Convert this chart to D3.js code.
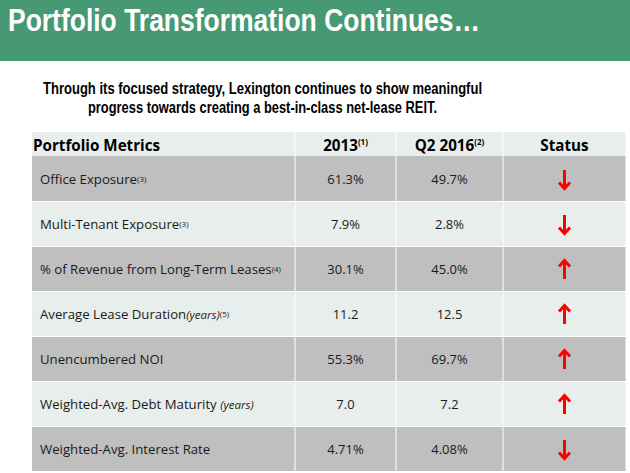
<!DOCTYPE html>
<html><head><meta charset="utf-8">
<script src="https://cdn.jsdelivr.net/npm/d3@7"></script>
<style>html,body{margin:0;padding:0;background:#fff;}svg{display:block;}</style>
</head><body>
<svg id="c" width="630" height="473"></svg>
<script>
const title = "Portfolio Transformation Continues…";
const subtitleLines = ["Through its focused strategy, Lexington continues to show meaningful",
                       "progress towards creating a best-in-class net-lease REIT."];
const headers = [
  {text:"Portfolio Metrics", sup:""},
  {text:"2013", sup:"(1)"},
  {text:"Q2 2016", sup:"(2)"},
  {text:"Status", sup:""}
];
const metrics = ["Office Exposure","Multi-Tenant Exposure","% of Revenue from Long-Term Leases",
  "Average Lease Duration","Unencumbered NOI","Weighted-Avg. Debt Maturity","Weighted-Avg. Interest Rate"];
const metricNotes = ["","","","(years)","","(years)",""];
const metricSups = ["(3)","(3)","(4)","(5)","","",""];
const values2013 = ["61.3%","7.9%","30.1%","11.2","55.3%","7.0","4.71%"];
const valuesQ2 = ["49.7%","2.8%","45.0%","12.5","69.7%","7.2","4.08%"];
const status = ["down","down","up","up","up","up","down"];

const svg = d3.select("#c");
const W = 630;
// title band
svg.append("rect").attr("x",0).attr("y",0).attr("width",W).attr("height",61).attr("fill","#479974");
svg.append("text").attr("x",8).attr("y",30.5).attr("fill","#fff")
  .attr("font-family","Liberation Sans Narrow, Liberation Sans, Arial, sans-serif").attr("font-weight","bold")
  .attr("font-size",30.5).attr("textLength",472).attr("lengthAdjust","spacingAndGlyphs").text(title);

// subtitle
const subW = [439, 349];
svg.selectAll("text.sub").data(subtitleLines).join("text").attr("class","sub")
  .attr("x",262.5).attr("y",(d,i)=>94.3+i*18.8).attr("text-anchor","middle")
  .attr("font-family","Liberation Sans Narrow, Liberation Sans, Arial, sans-serif").attr("font-weight","bold")
  .attr("font-size",15.8).attr("fill","#000")
  .attr("textLength",(d,i)=>subW[i]).attr("lengthAdjust","spacingAndGlyphs").text(d=>d);

// table layout
const colEdges = [32,295,396,503,626];
const tTop = 132, headH = 24, tBottom = 471;
const y = d3.scaleBand().domain(metrics).range([tTop+headH, tBottom]);
const light = "#e8eeec", dark = "#bfbfbf";

const g = svg.append("g");
headers.forEach((h,i)=>{
  g.append("rect").attr("x",colEdges[i]+(i?0.5:0)).attr("y",tTop)
   .attr("width",colEdges[i+1]-colEdges[i]-(i?1:0.5)).attr("height",headH).attr("fill",light);
});
metrics.forEach((m,r)=>{
  for(let i=0;i<4;i++){
    g.append("rect").attr("x",colEdges[i]+(i?0.5:0)).attr("y",y(m)+(r?1:0))
      .attr("width",colEdges[i+1]-colEdges[i]-(i?1:0.5)).attr("height",y.bandwidth()-(r?1:0))
      .attr("fill", r%2===0?dark:light);
  }
});

const hf = "Open Sans, sans-serif";
headers.forEach((h,i)=>{
  const t = g.append("text").attr("y",tTop+18.5).attr("font-family",hf).attr("font-weight","bold")
    .attr("font-size",15.2).attr("fill","#000");
  if(i===0){ t.attr("x",colEdges[0]+1).attr("text-anchor","start"); }
  else { t.attr("x",(colEdges[i]+colEdges[i+1])/2).attr("text-anchor","middle"); }
  t.append("tspan").text(h.text);
  if(h.sup) t.append("tspan").attr("font-size",8).attr("dy",-6).text(h.sup);
});

const bf = "Open Sans, sans-serif";
metrics.forEach((m,r)=>{
  const cy = y(m)+y.bandwidth()/2 + 5;
  const t = g.append("text").attr("x",40).attr("y",cy).attr("font-family",bf)
    .attr("font-size",13.2).attr("fill","#1a1a1a");
  t.append("tspan").text(m + (metricNotes[r] && r===5 ? " " : ""));
  if(metricNotes[r]) t.append("tspan").attr("font-style","italic").attr("font-size",11.5).text(metricNotes[r]);
  if(metricSups[r]) t.append("tspan").attr("font-size",8).attr("dy",-2).text(metricSups[r]);
  g.append("text").attr("x",(colEdges[1]+colEdges[2])/2).attr("y",cy).attr("text-anchor","middle")
    .attr("font-family",bf).attr("font-size",13).attr("fill","#1a1a1a").text(values2013[r]);
  g.append("text").attr("x",(colEdges[2]+colEdges[3])/2).attr("y",cy).attr("text-anchor","middle")
    .attr("font-family",bf).attr("font-size",13).attr("fill","#1a1a1a").text(valuesQ2[r]);
  const ax = (colEdges[3]+colEdges[4])/2, ay = y(m)+y.bandwidth()/2 + 1;
  const s = status[r]==="up" ? -1 : 1;
  const a = g.append("g").attr("stroke","#ff0000").attr("fill","none").attr("stroke-width",3);
  a.append("line").attr("x1",ax).attr("x2",ax).attr("y1",ay-9.5*s).attr("y2",ay+8.5*s);
  a.append("path").attr("stroke-linejoin","miter")
    .attr("d",`M${ax-5.5},${ay+3*s}L${ax},${ay+9*s}L${ax+5.5},${ay+3*s}`);
});
</script>
</body></html>
